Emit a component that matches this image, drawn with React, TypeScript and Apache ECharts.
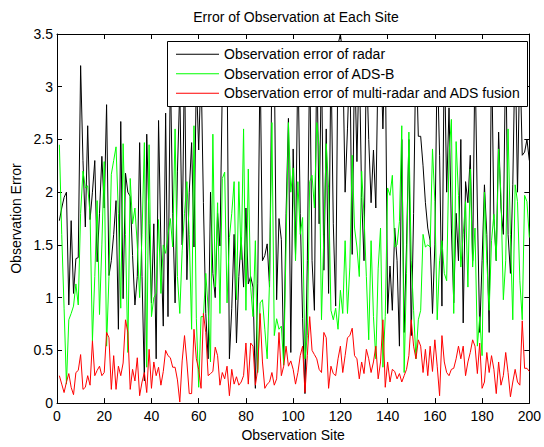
import React, { useEffect, useRef } from "react";
import * as echarts from "echarts";

const sites: number[] = Array.from({ length: 200 }, (_, i) => i + 1);

const seriesNames = [
  "Observation error of radar",
  "Observation error of ADS-B",
  "Observation error of multi-radar and ADS fusion",
];

const radarError = [
  1.73, 1.85, 1.95, 2.0, 0.93, 1.73, 1.04, 1.37, 1.38, 3.2, 2.3, 1.67, 2.63, 1.74, 2.0, 2.3, 1.34, 1.8, 2.34, 1.85,
  2.83, 1.21, 1.35, 1.6, 1.92, 0.7, 2.67, 0.99, 2.18, 2.0, 1.96, 1.4, 0.93, 1.2,
  2.47, 1.2, 0.21, 2.55, 1.7, 0.95, 1.7, 0.42, 2.68, 1.5, 0.73, 2.75, 0.82, 3.2, 1.8, 0.95, 2.2, 3.0, 1.5, 3.3,
  1.17, 2.0, 2.47, 1.48, 3.1, 2.4, 3.2, 1.9, 0.85, 0.42, 2.0, 1.23, 1.0, 1.8,
  1.49, 3.0, 3.4, 3.3, 0.42, 0.9, 1.6, 0.57, 1.2, 1.57, 1.1, 1.85, 1.13, 1.2, 1.1, 0.14, 1.13, 3.3, 1.35, 1.4,
  1.51, 1.1, 3.2, 3.3, 0.98, 1.75, 1.55, 0.42, 1.8, 2.7, 0.48, 2.41,
  1.41, 3.3, 1.8, 0.8, 0.09, 1.35, 3.3, 1.35, 0.88, 3.4, 1.7, 3.3, 1.26, 2.6, 1.04, 3.3, 1.7, 0.92, 3.4, 3.5,
  3.3, 2.0, 2.6, 3.3, 1.41, 3.3, 2.29, 3.3, 1.95, 1.35, 3.3, 2.5, 1.9, 2.4,
  1.85, 3.3, 3.4, 2.6, 3.4, 0.85, 1.3, 0.88, 1.66, 1.35, 0.54, 2.5, 0.67, 1.5, 2.5, 0.64, 1.8, 3.4, 2.53, 2.53,
  2.25, 1.9, 1.66, 1.54, 0.85, 1.5, 3.3, 2.35, 0.92, 3.4, 2.0, 2.8, 1.66,
  0.95, 1.8, 1.35, 2.5, 0.76, 2.1, 1.9, 2.35, 1.35, 3.3, 1.85, 0.67, 1.35, 2.07, 1.6, 0.67, 3.4, 1.75, 1.35, 2.57,
  1.85, 1.6, 3.4, 1.6, 1.23, 2.07, 3.4, 2.0, 3.3, 2.35, 2.38, 2.5, 2.3,
];

const adsbError = [
  2.45, 1.6, 0.9, 0.18, 0.79, 0.85, 0.92, 1.13, 0.93, 1.8, 2.2, 2.04, 2.06, 1.79, 0.59, 1.2, 1.92, 0.84, 1.5, 2.29,
  0.54, 1.2, 2.17, 2.3, 2.43, 1.8, 0.9, 2.46, 1.6, 0.48, 2.13, 1.7, 1.85, 1.5,
  1.0, 1.6, 2.47, 0.34, 2.45, 0.82, 1.0, 1.04, 1.74, 1.04, 1.5, 1.42, 1.6, 1.75, 1.48, 2.6, 1.2, 0.85, 1.45, 1.8,
  2.1, 1.6, 0.7, 2.63, 0.8, 0.15, 0.82, 0.82, 1.23, 0.9, 0.39, 2.55, 1.1, 1.9,
  0.85, 2.13, 2.19, 0.95, 1.57, 1.8, 2.1, 0.98, 2.1, 1.36, 2.6, 0.88, 2.22, 1.1, 0.82, 1.54, 0.29, 0.95, 0.98, 0.7,
  0.42, 1.16, 2.66, 0.64, 0.8, 0.7, 0.73, 0.36, 1.5, 2.66, 2.0, 2.23,
  1.35, 2.1, 1.6, 1.76, 0.42, 0.64, 2.1, 2.16, 1.85, 2.66, 2.44, 0.79, 1.6, 2.46, 2.04, 0.88, 0.79, 0.9, 0.7, 1.07,
  0.85, 1.54, 0.85, 1.29, 2.35, 1.66, 1.48, 1.2, 2.2, 1.78, 1.2, 0.6, 1.54, 0.82,
  0.42, 1.28, 1.66, 0.34, 0.82, 2.04, 1.97, 2.16, 1.48, 1.5, 1.72, 2.63, 0.29, 1.23, 2.57, 1.35, 0.88, 0.42, 0.79, 0.88,
  1.6, 1.48, 1.5, 1.48, 2.41, 1.91, 0.79, 1.35, 1.54, 1.23, 1.16, 2.35, 2.69,
  0.85, 2.48, 1.97, 1.29, 1.6, 1.91, 1.1, 2.22, 1.29, 1.66, 0.54, 0.82, 0.45, 2.0, 1.35, 0.88, 1.54, 1.79, 1.35, 2.41,
  1.97, 0.98, 1.35, 2.6, 1.6, 0.79, 2.07, 1.91, 1.16, 0.79, 1.97, 1.91, 1.57,
];

const fusionError = [
  0.26, 0.18, 0.1, 0.2, 0.28, 0.15, 0.08, 0.29, 0.31, 0.46, 0.13, 0.15, 0.26, 0.17, 0.59, 0.26, 0.31, 0.35, 0.26, 0.29,
  0.67, 0.62, 0.13, 0.45, 0.13, 0.35, 0.26, 0.38, 0.79, 0.67, 0.13, 0.32, 0.21, 0.43,
  0.07, 0.2, 0.29, 0.1, 0.51, 0.14, 0.39, 0.26, 0.34, 0.17, 0.3, 0.5, 0.45, 0.43, 0.34, 0.34, 0.22, 0.01, 0.4, 0.64,
  0.39, 0.09, 0.09, 0.7, 0.42, 0.32, 0.14, 0.85, 0.67, 0.26, 0.28, 0.3, 0.53, 0.45,
  0.17, 0.29, 0.23, 0.35, 0.07, 0.32, 0.18, 0.25, 0.17, 0.2, 0.26, 0.57, 0.18, 0.57, 0.54, 0.17, 0.32, 0.85, 0.39, 0.14,
  0.18, 0.2, 0.29, 0.17, 0.23, 0.67, 0.26, 0.35, 0.54, 0.35, 0.4, 0.32,
  0.18, 0.29, 0.45, 0.54, 0.1, 0.45, 0.82, 0.5, 0.46, 0.42, 0.32, 0.29, 0.67, 0.62, 0.14, 0.35, 0.28, 0.26, 0.42, 0.54,
  0.29, 0.45, 0.62, 0.64, 0.71, 0.45, 0.42, 0.23, 0.39, 0.28, 0.51, 0.42, 0.29, 0.39,
  0.54, 0.23, 0.39, 0.79, 0.15, 0.39, 0.2, 0.32, 0.3, 0.23, 0.28, 0.2, 0.26, 0.32, 0.45, 0.79, 0.54, 0.42, 0.6, 0.54,
  0.29, 0.51, 0.26, 0.54, 0.3, 0.6, 0.35, 0.07, 0.64, 0.39, 0.29, 0.26, 0.32,
  0.33, 0.42, 0.54, 0.42, 0.54, 0.26, 0.39, 0.48, 0.6, 0.54, 0.28, 0.57, 0.14, 0.2, 0.48, 0.29, 0.45, 0.32, 0.09, 0.39,
  0.17, 0.26, 0.48, 0.29, 0.06, 0.2, 0.32, 0.2, 0.17, 0.78, 0.33, 0.33, 0.3,
];

const seriesColors = ["#000000", "#00ff00", "#ff0000"];
const seriesValues = [radarError, adsbError, fusionError];

const FONT = "'Liberation Sans', Arial, Helvetica, sans-serif";

export default function App() {
  const ref = useRef<HTMLDivElement>(null);

  useEffect(() => {
    if (!ref.current) return;
    const chart = echarts.init(ref.current, null, { renderer: "svg" });

    const tick = { show: true, inside: true, length: 5, lineStyle: { color: "#000", width: 1 } };
    const line = { show: true, onZero: false, lineStyle: { color: "#000", width: 1 } };
    const label = { color: "#000", fontSize: 14, fontFamily: FONT };

    chart.setOption({
      animation: false,
      backgroundColor: "#ffffff",
      textStyle: { fontFamily: FONT },
      title: {
        text: "Error of Observation at Each Site",
        left: 296,
        top: 10,
        padding: 0,
        textAlign: "center",
        textStyle: { fontSize: 14, fontWeight: "normal", color: "#000", fontFamily: FONT, lineHeight: 14 },
      },
      grid: { left: 57, right: 10, top: 34, bottom: 40, containLabel: false },
      xAxis: [
        {
          type: "value",
          position: "bottom",
          min: 0,
          max: 200,
          interval: 20,
          axisLine: line,
          axisTick: tick,
          axisLabel: { ...label, margin: 6 },
          splitLine: { show: false },
          name: "Observation Site",
          nameLocation: "middle",
          nameGap: 23,
          nameTextStyle: { ...label },
        },
        {
          type: "value",
          position: "top",
          min: 0,
          max: 200,
          interval: 20,
          axisLine: line,
          axisTick: tick,
          axisLabel: { show: false },
          splitLine: { show: false },
        },
      ],
      yAxis: [
        {
          type: "value",
          position: "left",
          min: 0,
          max: 3.5,
          interval: 0.5,
          axisLine: line,
          axisTick: tick,
          axisLabel: { ...label, margin: 4 },
          splitLine: { show: false },
          name: "Observation Error",
          nameLocation: "middle",
          nameGap: 32,
          nameTextStyle: { ...label },
        },
        {
          type: "value",
          position: "right",
          min: 0,
          max: 3.5,
          interval: 0.5,
          axisLine: line,
          axisTick: tick,
          axisLabel: { show: false },
          splitLine: { show: false },
        },
      ],
      legend: {
        data: seriesNames,
        orient: "vertical",
        left: 176,
        top: 47.3,
        padding: 0,
        icon: "rect",
        itemWidth: 43,
        itemHeight: 1,
        itemGap: 5.5,
        selectedMode: false,
        textStyle: { fontSize: 14, color: "#000", fontFamily: FONT, lineHeight: 14, height: 14 },
        z: 5,
      },
      graphic: {
        elements: [
          {
            type: "rect",
            z: 4,
            silent: true,
            shape: { x: 167.5, y: 41.5, width: 360, height: 65 },
            style: { fill: "#ffffff", stroke: "#000000", lineWidth: 1 },
          },
        ],
      },
      series: seriesNames.map((name, k) => ({
        name,
        type: "line",
        xAxisIndex: 0,
        yAxisIndex: 0,
        symbol: "none",
        showSymbol: false,
        clip: true,
        z: 2,
        lineStyle: { color: seriesColors[k], width: 1 },
        itemStyle: { color: seriesColors[k] },
        data: seriesValues[k].map((v, i) => [sites[i], v]),
      })),
    });

    return () => chart.dispose();
  }, []);

  return (
    <div
      ref={ref}
      style={{ position: "absolute", left: 0, top: 0, width: 544, height: 447, background: "#fff" }}
    />
  );
}
